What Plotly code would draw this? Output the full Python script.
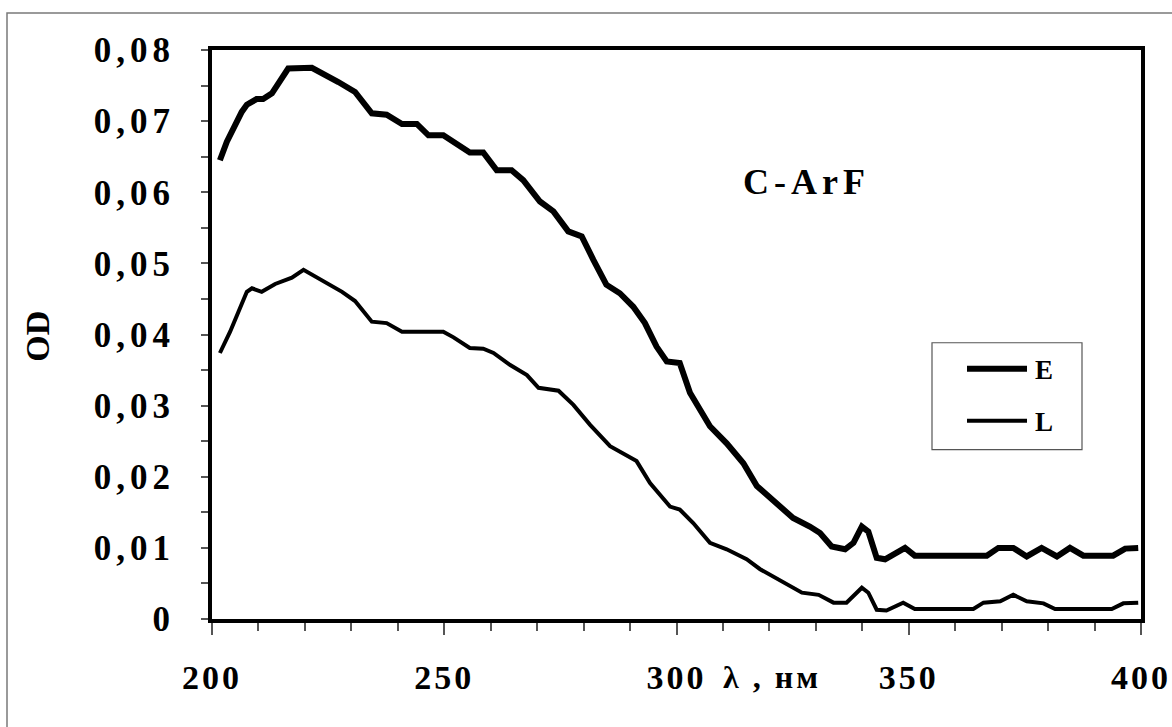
import plotly.graph_objects as go

# ---- data ----
e_x = [201.7, 203.2, 206.4, 207.5, 209.6, 211.0, 212.9, 215.0, 216.4, 221.5, 223.3, 225.1,
       227.2, 230.8, 232.2, 234.4, 237.6, 240.9, 244.1, 246.6, 249.8, 252.0, 255.5, 258.4,
       261.3, 264.5, 267.0, 270.6, 273.5, 276.7, 279.6, 282.1, 284.9, 287.8, 290.7, 293.2,
       295.7, 297.9, 300.7, 302.9, 307.2, 310.8, 314.4, 317.3, 321.6, 325.1, 328.7, 330.9,
       333.4, 336.3, 338.1, 339.9, 341.3, 343.1, 344.9, 347.4, 349.2, 351.3, 366.8, 369.3,
       372.5, 375.4, 378.6, 381.9, 384.7, 387.6, 394.0, 396.6, 399.4]
e_y = [0.0645, 0.0671, 0.0713, 0.0723, 0.0731, 0.0731, 0.0739, 0.0758, 0.0774, 0.0775, 0.0769, 0.0762,
       0.0755, 0.0741, 0.0730, 0.0711, 0.0709, 0.0696, 0.0696, 0.0680, 0.0680, 0.0671, 0.0656, 0.0656,
       0.0631, 0.0631, 0.0617, 0.0587, 0.0573, 0.0545, 0.0538, 0.0505, 0.0470, 0.0458, 0.0439, 0.0416,
       0.0383, 0.0362, 0.0360, 0.0318, 0.0271, 0.0247, 0.0219, 0.0187, 0.0163, 0.0142, 0.0130, 0.0121,
       0.0102, 0.0098, 0.0107, 0.0130, 0.0123, 0.0086, 0.0084, 0.0093, 0.0100, 0.0089, 0.0089, 0.0100,
       0.0100, 0.0088, 0.0100, 0.0088, 0.0100, 0.0089, 0.0089, 0.0099, 0.0100]

l_x = [201.7, 203.9, 205.7, 207.5, 208.6, 210.7, 213.6, 217.2, 219.7, 221.5, 225.1, 228.0,
       230.8, 232.6, 234.4, 237.6, 240.9, 249.8, 252.0, 255.5, 258.4, 260.6, 264.2, 267.8,
       270.3, 274.6, 277.8, 281.4, 285.7, 291.4, 294.3, 298.6, 300.7, 303.6, 307.2, 310.8,
       315.1, 318.0, 322.3, 327.0, 330.6, 333.8, 336.6, 339.9, 341.3, 343.1, 345.2, 348.8,
       351.3, 363.9, 366.1, 369.7, 372.5, 375.4, 379.0, 381.5, 393.7, 396.2, 399.4]
l_y = [0.0374, 0.0404, 0.0432, 0.0460, 0.0465, 0.0460, 0.0471, 0.0480, 0.0491, 0.0484, 0.0471, 0.0460,
       0.0447, 0.0432, 0.0418, 0.0416, 0.0404, 0.0404, 0.0396, 0.0381, 0.0380, 0.0374, 0.0357, 0.0343,
       0.0325, 0.0321, 0.0301, 0.0273, 0.0243, 0.0222, 0.0191, 0.0158, 0.0154, 0.0135, 0.0107, 0.0098,
       0.0084, 0.0070, 0.0055, 0.0037, 0.0034, 0.0023, 0.0023, 0.0044, 0.0037, 0.0013, 0.0012, 0.0023,
       0.0014, 0.0014, 0.0023, 0.0025, 0.0034, 0.0025, 0.0022, 0.0014, 0.0014, 0.0022, 0.0023]

x_ticks = [200, 250, 300, 350, 400]
x_tick_labels = ["200", "250", "300", "350", "400"]
y_ticks = [0, 0.01, 0.02, 0.03, 0.04, 0.05, 0.06, 0.07, 0.08]
y_tick_labels = ["0", "0,01", "0,02", "0,03", "0,04", "0,05", "0,06", "0,07", "0,08"]

series_names = ["E", "L"]

FONT = "Liberation Serif, Times New Roman, serif"


def spaced(t, sp=4):
    return '<span style="letter-spacing:%dpx">%s</span>' % (sp, t)


fig = go.Figure()
fig.add_trace(go.Scatter(x=e_x, y=e_y, mode="lines", name=series_names[0],
                         line=dict(color="black", width=6), showlegend=False))
fig.add_trace(go.Scatter(x=l_x, y=l_y, mode="lines", name=series_names[1],
                         line=dict(color="black", width=4), showlegend=False))

W, H = 1172, 727
L, R, T, B = 212, 31, 50, 107.5
pw, ph = W - L - R, H - T - B


def px2paper_x(px):
    return (px - L) / pw


def px2paper_y(py):
    return (H - B - py) / ph


shapes = [
    # outer frame
    dict(type="rect", xref="paper", yref="paper",
         x0=px2paper_x(7), x1=px2paper_x(1200), y0=px2paper_y(760), y1=px2paper_y(13),
         line=dict(color="#7a7a7a", width=1.5), layer="below"),
    # legend box
    dict(type="rect", xref="paper", yref="paper",
         x0=px2paper_x(932), x1=px2paper_x(1082), y0=px2paper_y(450), y1=px2paper_y(343),
         line=dict(color="#555555", width=1.2), fillcolor="white"),
    dict(type="line", xref="paper", yref="paper",
         x0=px2paper_x(967), x1=px2paper_x(1027), y0=px2paper_y(369), y1=px2paper_y(369),
         line=dict(color="black", width=6)),
    dict(type="line", xref="paper", yref="paper",
         x0=px2paper_x(967), x1=px2paper_x(1027), y0=px2paper_y(421), y1=px2paper_y(421),
         line=dict(color="black", width=4)),
]

annotations = [
    dict(text=series_names[0], xref="paper", yref="paper", x=px2paper_x(1033), y=px2paper_y(370),
         xanchor="left", yanchor="middle", showarrow=False,
         font=dict(family=FONT, size=27, color="black", weight="bold")),
    dict(text=series_names[1], xref="paper", yref="paper", x=px2paper_x(1033), y=px2paper_y(422),
         xanchor="left", yanchor="middle", showarrow=False,
         font=dict(family=FONT, size=27, color="black", weight="bold")),
    dict(text=spaced("C-ArF", 5), xref="paper", yref="paper", x=px2paper_x(806), y=px2paper_y(182),
         xanchor="center", yanchor="middle", showarrow=False,
         font=dict(family=FONT, size=36, color="black", weight="bold")),
    dict(text=spaced("λ , нм", 3), xref="paper", yref="paper", x=px2paper_x(772), y=px2paper_y(678),
         xanchor="center", yanchor="middle", showarrow=False,
         font=dict(family=FONT, size=32, color="black", weight="bold")),
    dict(text="OD", xref="paper", yref="paper", x=px2paper_x(38), y=px2paper_y(337),
         xanchor="center", yanchor="middle", showarrow=False, textangle=-90,
         font=dict(family=FONT, size=34, color="black", weight="bold")),
]

fig.update_layout(
    width=W, height=H,
    margin=dict(l=L, r=R, t=T, b=B, autoexpand=False),
    paper_bgcolor="white", plot_bgcolor="white",
    shapes=shapes, annotations=annotations,
    showlegend=False,
)

fig.update_xaxes(
    range=[200, 400], tickvals=x_ticks, ticktext=[spaced(t, 3) for t in x_tick_labels],
    showgrid=False, zeroline=False, automargin=False,
    showline=True, linecolor="black", linewidth=4, mirror=True,
    ticks="outside", ticklen=12, tickwidth=1.5, tickcolor="#555555",
    minor=dict(dtick=10, tick0=200, ticks="outside", ticklen=8, tickwidth=1.5, tickcolor="#555555"),
    ticklabelstandoff=13, ticklabeloverflow="allow",
    tickfont=dict(family=FONT, size=34, color="black", weight="bold"),
)
fig.update_yaxes(
    range=[0, 0.08], tickvals=y_ticks, ticktext=[spaced(t, 5) for t in y_tick_labels],
    showgrid=False, zeroline=False, automargin=False,
    showline=True, linecolor="black", linewidth=4, mirror=True,
    ticks="outside", ticklen=7, tickwidth=1.5, tickcolor="#555555",
    minor=dict(dtick=0.005, tick0=0, ticks="outside", ticklen=7, tickwidth=1.5, tickcolor="#555555"),
    ticklabelstandoff=19, ticklabeloverflow="allow",
    tickfont=dict(family=FONT, size=35, color="black", weight="bold"),
)

fig.write_html("out.html")
